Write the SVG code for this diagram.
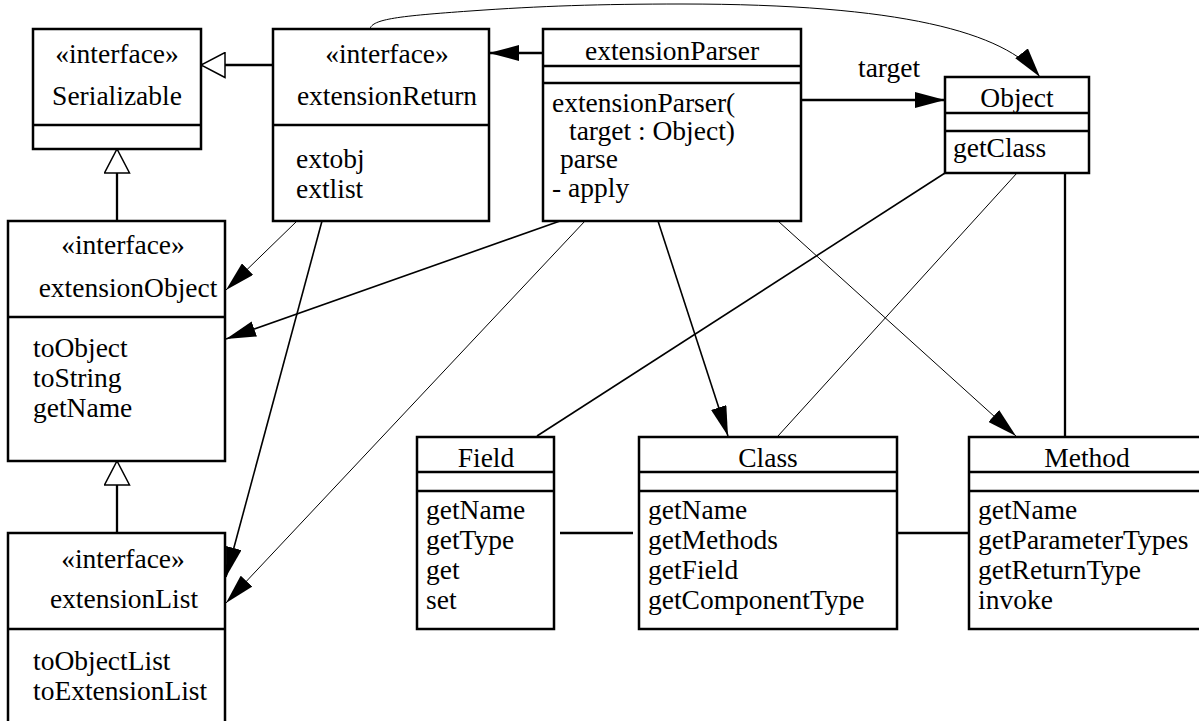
<svg xmlns="http://www.w3.org/2000/svg" width="1199" height="721" viewBox="0 0 1199 721">
<style>
.box{fill:#fff;stroke:#000;stroke-width:2.5}
.div{stroke:#000;stroke-width:2.5}
text{font-family:'Liberation Serif','Times New Roman',Times,serif;font-size:27.5px;fill:#000}
.c{text-anchor:middle}
.w1{stroke:#000;stroke-width:1;fill:none}
.w15{stroke:#000;stroke-width:1.6;fill:none}
.w2{stroke:#000;stroke-width:2.3;fill:none}
</style>
<defs>
<marker id="arr" viewBox="0 0 30 16" refX="30" refY="8" markerWidth="30" markerHeight="16" markerUnits="userSpaceOnUse" orient="auto">
<path d="M0,0 L30,8 L0,16 z" fill="#000"/>
</marker>
<marker id="gen" viewBox="-1 -1 26 27" refX="24" refY="12.5" markerWidth="26" markerHeight="27" markerUnits="userSpaceOnUse" orient="auto">
<path d="M0,0 L24,12.5 L0,25 z" fill="#fff" stroke="#000" stroke-width="1.5"/>
</marker>
</defs>
<rect width="1199" height="721" fill="#fff"/>
<g font-family="'Liberation Serif', 'Times New Roman', serif" font-size="27.5">
<g id="connectors">
<line class="w2" x1="273" y1="65" x2="201" y2="65" marker-end="url(#gen)"/>
<line class="w2" x1="117" y1="221" x2="117" y2="149" marker-end="url(#gen)"/>
<line class="w2" x1="117" y1="533" x2="117" y2="461" marker-end="url(#gen)"/>
<line class="w2" x1="543" y1="53" x2="489" y2="53" marker-end="url(#arr)"/>
<line class="w2" x1="801" y1="100" x2="945" y2="100" marker-end="url(#arr)"/>
<path class="w1" d="M370,29 C372,19 400,16 470,11 S600,4 682,4 C900,4 1005,32 1040,77" marker-end="url(#arr)"/>
<line class="w1" x1="297" y1="221" x2="226" y2="290" marker-end="url(#arr)"/>
<line class="w15" x1="322" y1="221" x2="226" y2="577" marker-end="url(#arr)"/>
<line class="w15" x1="560" y1="221" x2="226" y2="339" marker-end="url(#arr)"/>
<line class="w1" x1="585" y1="221" x2="226" y2="603" marker-end="url(#arr)"/>
<line class="w15" x1="658" y1="221" x2="728" y2="436" marker-end="url(#arr)"/>
<line class="w1" x1="778" y1="221" x2="1016" y2="436" marker-end="url(#arr)"/>
<line class="w15" x1="945" y1="173" x2="537" y2="436"/>
<line class="w1" x1="1017" y1="173" x2="778" y2="436"/>
<line class="w2" x1="1065" y1="173" x2="1065" y2="436"/>
<line class="w2" x1="560" y1="533" x2="633" y2="533"/>
<line class="w2" x1="898" y1="533" x2="968" y2="533"/>
<text x="858" y="77">target</text>
</g>
<g id="Serializable">
<rect class="box" x="33" y="29" width="168" height="120"/>
<line class="div" x1="33" y1="125" x2="201" y2="125"/>
<text class="c" x="117" y="63">«interface»</text>
<text class="c" x="117" y="105">Serializable</text>
</g>
<g id="extensionReturn">
<rect class="box" x="273" y="29" width="216" height="192"/>
<line class="div" x1="273" y1="125" x2="489" y2="125"/>
<text class="c" x="387" y="63">«interface»</text>
<text class="c" x="387" y="105">extensionReturn</text>
<text x="296" y="168">extobj</text>
<text x="296" y="198">extlist</text>
</g>
<g id="extensionParser">
<rect class="box" x="543" y="29" width="258" height="192"/>
<line class="div" x1="543" y1="66" x2="801" y2="66"/>
<line class="div" x1="543" y1="83" x2="801" y2="83"/>
<text class="c" x="672" y="60">extensionParser</text>
<text x="552" y="112">extensionParser(</text>
<text x="569" y="140">target : Object)</text>
<text x="560" y="168">parse</text>
<text x="552" y="197">- apply</text>
</g>
<g id="Object">
<rect class="box" x="945" y="77" width="144" height="96"/>
<line class="div" x1="945" y1="113" x2="1089" y2="113"/>
<line class="div" x1="945" y1="131" x2="1089" y2="131"/>
<text class="c" x="1017" y="107">Object</text>
<text x="953" y="157">getClass</text>
</g>
<g id="extensionObject">
<rect class="box" x="8" y="221" width="217" height="240"/>
<line class="div" x1="8" y1="317" x2="225" y2="317"/>
<text class="c" x="123" y="254">«interface»</text>
<text class="c" x="128" y="297">extensionObject</text>
<text x="33" y="357">toObject</text>
<text x="33" y="387">toString</text>
<text x="33" y="417">getName</text>
</g>
<g id="extensionList">
<rect class="box" x="8" y="533" width="217" height="200"/>
<line class="div" x1="8" y1="629" x2="225" y2="629"/>
<text class="c" x="123" y="568">«interface»</text>
<text class="c" x="124" y="608">extensionList</text>
<text x="33" y="670">toObjectList</text>
<text x="33" y="700">toExtensionList</text>
</g>
<g id="Field">
<rect class="box" x="417" y="437" width="137" height="192"/>
<line class="div" x1="417" y1="472" x2="554" y2="472"/>
<line class="div" x1="417" y1="491" x2="554" y2="491"/>
<text class="c" x="486" y="467">Field</text>
<text x="426" y="519">getName</text>
<text x="426" y="549">getType</text>
<text x="426" y="579">get</text>
<text x="426" y="609">set</text>
</g>
<g id="Class">
<rect class="box" x="639" y="437" width="258" height="192"/>
<line class="div" x1="639" y1="472" x2="897" y2="472"/>
<line class="div" x1="639" y1="491" x2="897" y2="491"/>
<text class="c" x="768" y="467">Class</text>
<text x="648" y="519">getName</text>
<text x="648" y="549">getMethods</text>
<text x="648" y="579">getField</text>
<text x="648" y="609">getComponentType</text>
</g>
<g id="Method">
<rect class="box" x="969" y="437" width="240" height="192"/>
<line class="div" x1="969" y1="472" x2="1209" y2="472"/>
<line class="div" x1="969" y1="491" x2="1209" y2="491"/>
<text class="c" x="1087" y="467">Method</text>
<text x="978" y="519">getName</text>
<text x="978" y="549">getParameterTypes</text>
<text x="978" y="579">getReturnType</text>
<text x="978" y="609">invoke</text>
</g>
</g>
</svg>
